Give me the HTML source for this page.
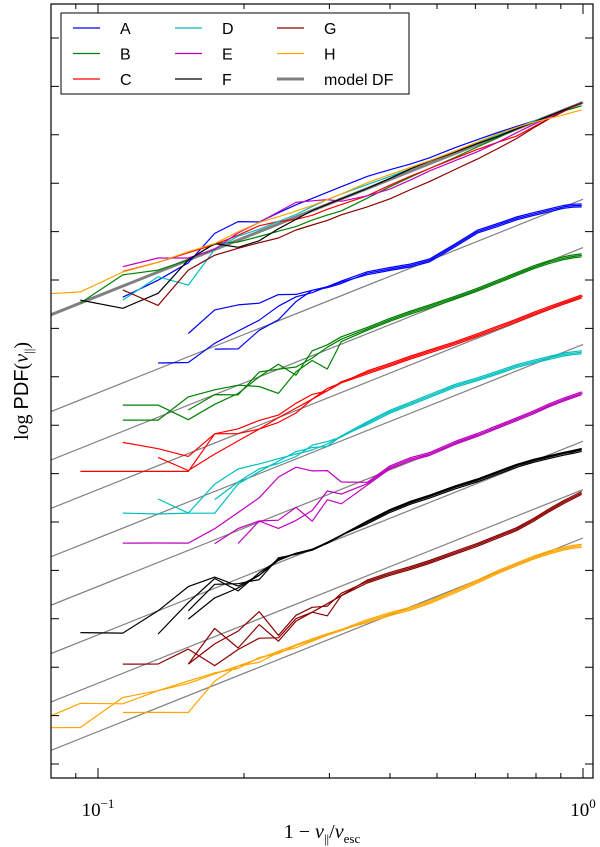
<!DOCTYPE html>
<html><head><meta charset="utf-8"><style>
html,body{margin:0;padding:0;background:#fff;}
svg{display:block;}
</style></head><body>
<svg id="chart" width="600" height="847" viewBox="0 0 600 847" xmlns="http://www.w3.org/2000/svg">
<defs><clipPath id="plotclip"><rect x="51" y="4" width="542" height="774"/></clipPath></defs>
<g id="grays" clip-path="url(#plotclip)"></g>
<g id="series" clip-path="url(#plotclip)"></g>
<g id="top" clip-path="url(#plotclip)"></g>
<rect x="51" y="4" width="542" height="774" fill="none" stroke="#000" stroke-width="1.2"/>
<g id="ticks"></g>
<text x="98" y="816" font-family="Liberation Serif, serif" font-size="19" text-anchor="middle">10<tspan dy="-8" font-size="13">−1</tspan></text>
<text x="583" y="816" font-family="Liberation Serif, serif" font-size="19" text-anchor="middle">10<tspan dy="-8" font-size="13">0</tspan></text>
<text x="322" y="838" font-family="Liberation Serif, serif" font-size="20" text-anchor="middle">1 − <tspan font-style="italic">v</tspan><tspan font-size="13" dy="5">||</tspan><tspan dy="-5">/</tspan><tspan font-style="italic">v</tspan><tspan font-size="13" dy="5">esc</tspan></text>
<text transform="translate(28,391) rotate(-90)" font-family="Liberation Serif, serif" font-size="20" text-anchor="middle">log <tspan font-family="Liberation Sans, sans-serif">PDF</tspan>(<tspan font-style="italic">v</tspan><tspan font-size="13" dy="5">||</tspan><tspan dy="-5">)</tspan></text>
<g id="legend">
<rect x="61" y="13" width="348" height="81" fill="#fff" stroke="#000" stroke-width="1"/>
</g>
</svg>
<script>
const xGrid = [0.0715,0.092,0.1125,0.133,0.1535,0.174,0.1945,0.215,0.2355,0.256,0.2765,0.297,0.3175,0.359,0.4,0.4415,0.4825,0.5445,0.6055,0.6675,0.729,0.79,0.851,0.9125,0.953,0.994];
const seriesNames = ['A','B','C','D','E','F','G','H'];
const seriesColors = ['#0000ff','#008000','#ff0000','#00bfbf','#bf00bf','#000000','#8b0000','#ffa500'];
const offsets = [11.67,10.67,9.67,8.67,7.67,6.67,5.67,4.67];
const topOffset = 13.67;
const slope = 4;
const yTicks = [0,1,2,3,4,5,6,7,8,9,10,11,12,13,14,15];
const xMajorTicks = [0.1,1];
const xMinorTicks = [0.08,0.09,0.2,0.3,0.4,0.5,0.6,0.7,0.8,0.9];

const headsA = [
 [null,null,null,null,0.48,0.75,0.66,0.52,0.54,0.4,0.35,0.3,0.3],
 [null,null,null,0.12,-0.12,0.06,0.12,0.17,0.3,0.35,0.3,0.3,0.28],
 [null,null,null,null,null,-0.06,-0.25,-0.04,0.02,0.25,0.35,0.28,0.25]];
const tailA = [0.25,0.15,0.05,0,0.1,0.2,0.17,0.15,0.1,0.05,0,-0.05,-0.12];
const headsB = [
 [null,null,0.54,0.25,-0.3,-0.2,-0.17,0,0.1,-0.27,0.1,0.1,0.15],
 [null,null,0.23,-0.06,0.17,0.1,0,-0.2,-0.5,-0.2,-0.1,-0.4,0.05],
 [null,null,null,null,-0.1,0,-0.2,0.1,0,-0.1,-0.05,0.05,0.1]];
const tailB = [0.1,0.1,0.08,0.05,0.02,0,0,0,0,-0.02,-0.06,-0.1,-0.15];
const headsC = [
 [null,null,0.77,0.35,-0.06,0.19,0,-0.08,-0.1,-0.05,0.1,0.15,0.2],
 [null,null,null,0.17,-0.35,-0.23,-0.15,-0.08,0,0.05,0.1,0.2,0.2],
 [null,0.52,0.17,-0.12,-0.37,0.19,0.1,0.1,0.05,0.15,0.2,0.15,0.22]];
const tailC = [0.2,0.17,0.15,0.12,0.08,0.06,0.05,0.04,0.04,0.03,0.02,0.01,0];
const headsD = [
 [null,null,0.31,0,-0.23,0.15,0.27,0.2,0.15,0.1,0.05,0.05,0.1],
 [null,null,null,0.31,-0.23,-0.45,-0.04,0.04,0.1,0.15,0.1,0,0.1],
 [null,null,null,null,null,-0.17,0,0.1,0.05,0.05,0.15,0.1,0.08]];
const tailD = [0.15,0.2,0.2,0.2,0.2,0.15,0.12,0.1,0.05,0,-0.05,-0.1,-0.15];
const headsE = [
 [null,null,0.69,0.4,0.15,0.23,0.37,0.5,0.77,0.83,0.62,0.5,0.15],
 [null,null,null,null,null,-0.08,0.04,0.02,-0.12,0,-0.42,-0.1,-0.3],
 [null,null,null,null,null,null,-0.27,0.02,-0.29,-0.27,-0.2,0.08,-0.1]];
const tailE = [-0.1,0.05,0.05,0,0.02,0,0,0,0,0.02,0.02,0.01,0];
const headsF = [
 [null,0.19,-0.17,0,0.25,0.23,-0.15,-0.1,0.08,0.05,0,0,0.05],
 [null,null,null,-0.48,-0.08,0.2,-0.25,-0.05,0.05,0.05,0,0.02,0.05],
 [null,null,null,null,-0.25,0.08,-0.1,-0.19,0.1,0.03,-0.02,0,0.05],
 [null,null,null,null,-0.42,-0.2,-0.19,-0.1,0.05,0.05,0,0,0.04]];
const tailF = [0.1,0.15,0.15,0.12,0.1,0.06,0.05,0.04,0,-0.05,-0.1,-0.14,-0.17];
const headsG = [
 [null,null,0.19,-0.1,-0.04,-0.6,-0.46,-0.4,-0.55,-0.3,-0.3,-0.25,-0.2],
 [null,null,null,null,-0.35,0.17,-0.43,-0.12,-0.62,-0.35,-0.3,-0.5,-0.2],
 [null,null,null,null,-0.35,-0.15,-0.08,0.15,-0.5,-0.23,-0.2,-0.3,-0.15]];
const tailG = [-0.12,-0.15,-0.2,-0.23,-0.25,-0.27,-0.27,-0.27,-0.22,-0.15,-0.1,-0.08,-0.06];
const headsH = [
 [0.7,0.73,0.37,0.35,0.25,0.23,0.2,0.18,0.17,0.16,0.15,0.13,0.1],
 [0.66,0.23,0.5,0.35,0.3,0.25,0.15,0.2,0.12,0.15,0.12,0.12,0.1],
 [null,null,0.19,-0.1,-0.35,0.08,0.2,0.1,0.15,0.1,0.1,0.1,0.08]];
const tailH = [0.06,0.02,-0.04,-0.06,-0.05,-0.03,0,0,0,-0.02,-0.06,-0.1,-0.15];
const jitter = [0.03,-0.03,0,0.015];

const topA = [null,null,-0.23,-0.17,-0.06,0.33,0.38,0.2,0.23,0.25,0.25,0.25,0.25,0.25,0.2,0.15,0.12,0.12,0.1,0.08,0.05,0.02,0,0,0,0];
const topB = [null,0,0.23,0.04,0,0.12,-0.04,-0.1,-0.15,-0.2,-0.2,-0.22,-0.25,-0.2,-0.15,-0.12,-0.1,-0.08,-0.05,-0.03,0,0,0,-0.02,-0.04,-0.06];
const topC = [null,null,0.3,0.2,0.15,0.1,0.1,0.12,0.05,-0.05,-0.1,-0.1,-0.12,-0.15,-0.12,-0.1,-0.1,-0.1,-0.1,-0.12,-0.15,-0.1,-0.05,-0.02,0,0];
const topD = [null,null,-0.29,-0.1,-0.52,0,0.08,0.05,0.05,0.05,0.08,0.1,0.1,0.08,0.06,0.05,0.05,0.05,0.04,0.03,0.02,0.02,0,0,0,0.02];
const topE = [null,null,0.4,0.29,0.04,0,0.15,0.19,0.25,0.3,0.2,0.1,-0.05,-0.15,-0.2,-0.18,-0.15,-0.15,-0.15,-0.12,-0.08,-0.05,-0.02,0,0,0];
const topF = [null,0.06,-0.46,-0.44,0,0.12,-0.15,-0.19,-0.1,-0.05,0,0,0,0,0.02,0.05,0.05,0.03,0.02,0,0,0,0,0,0,0];
const topG = [null,null,-0.08,-0.69,-0.21,-0.12,-0.17,-0.23,-0.29,-0.27,-0.3,-0.33,-0.33,-0.38,-0.4,-0.38,-0.37,-0.33,-0.3,-0.25,-0.2,-0.12,-0.06,-0.03,0,0];
const topH = [0.6,0.23,0.29,0.2,0.17,0.12,0.17,0.19,0.15,0.12,0.1,0.1,0.1,0.12,0.1,0.08,0.06,0.05,0.05,0.05,0.03,0,-0.05,-0.1,-0.12,-0.15];

const allHeads = [headsA,headsB,headsC,headsD,headsE,headsF,headsG,headsH];
const allTails = [tailA,tailB,tailC,tailD,tailE,tailF,tailG,tailH];
const allTops = [topA,topB,topC,topD,topE,topF,topG,topH];

const NS = 'http://www.w3.org/2000/svg';
function xs(x){ return 583 + 485*Math.log10(x); }
function ys(v){ return 764 - 48.4*v; }
function model(c,x){ return c + slope*Math.log10(x); }
function mk(tag, attrs, parent){
  const el = document.createElementNS(NS, tag);
  for (const k in attrs) el.setAttribute(k, attrs[k]);
  parent.appendChild(el);
  return el;
}
function pathFrom(pts){
  return pts.map((p,i)=>(i?'L':'M')+xs(p[0]).toFixed(1)+','+ys(p[1]).toFixed(1)).join(' ');
}

const gGray = document.getElementById('grays');
offsets.forEach((c,s)=>{
  const el = mk('path',{d:pathFrom([[0.07,model(c,0.07)],[1,model(c,1)]]),stroke:'#808080','stroke-width':1.2,fill:'none'},gGray);
  
  
});

const gSer = document.getElementById('series');
allHeads.forEach((heads,s)=>{
  const c = offsets[s];
  heads.forEach((head,r)=>{
    const pts = [];
    xGrid.forEach((x,i)=>{
      let d;
      if (i < head.length) d = head[i]; else d = allTails[s][i-13] + jitter[r];
      if (d !== null && d !== undefined) pts.push([x, model(c,x)+d]);
    });
    const el = mk('path',{d:pathFrom(pts),stroke:seriesColors[s],'stroke-width':1.2,fill:'none','stroke-linejoin':'round'},gSer);
    
    
  });
});

const gTop = document.getElementById('top');
const thick = mk('path',{d:pathFrom([[0.07,model(topOffset,0.07)],[1,model(topOffset,1)]]),stroke:'#808080','stroke-width':3,fill:'none'},gTop);


allTops.forEach((arr,s)=>{
  const pts = [];
  xGrid.forEach((x,i)=>{ if (arr[i] !== null) pts.push([x, model(topOffset,x)+arr[i]]); });
  const el = mk('path',{d:pathFrom(pts),stroke:seriesColors[s],'stroke-width':1.2,fill:'none','stroke-linejoin':'round'},gTop);
  
  
});

const gT = document.getElementById('ticks');
yTicks.forEach(v=>{
  const y = ys(v);
  const l = mk('path',{d:`M51,${y}H59M593,${y}H585`,stroke:'#000','stroke-width':1},gT);
  
  
});
xMajorTicks.forEach(x=>{
  const p = xs(x);
  const l = mk('path',{d:`M${p},778V768M${p},4V14`,stroke:'#000','stroke-width':1},gT);
  
  
});
xMinorTicks.forEach(x=>{
  const p = xs(x);
  if (p < 51) return;
  const l = mk('path',{d:`M${p},778V773M${p},4V9`,stroke:'#000','stroke-width':1},gT);
  
  
});

const gL = document.getElementById('legend');
const legendLabels = ['A','B','C','D','E','F','G','H','model DF'];
const legendColors = seriesColors.concat(['#808080']);
legendLabels.forEach((lab,i)=>{
  const col = Math.floor(i/3), row = i%3;
  const lx = 73 + col*102, ly = 28 + row*25.5;
  const ln = mk('line',{x1:lx,y1:ly,x2:lx+27,y2:ly,stroke:legendColors[i],'stroke-width':i===8?3:1.2},gL);
  
  
  const t = mk('text',{x:lx+47,y:ly+6,'font-family':'Liberation Sans, sans-serif','font-size':16},gL);
  t.textContent = lab;
  
  
});
</script>
</body></html>
